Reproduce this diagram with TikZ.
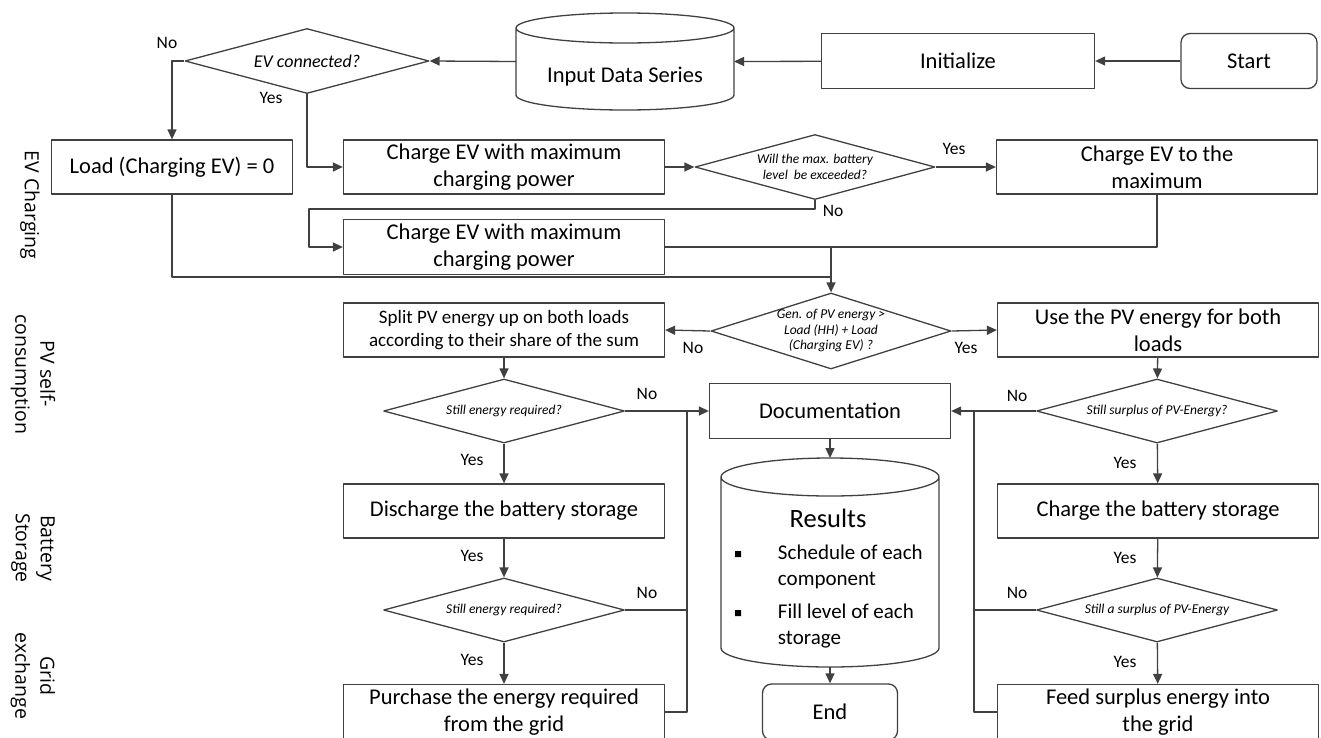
\documentclass[tikz,border=0pt]{standalone}
\usepackage{fontspec}
\setmainfont{Carlito}
\newfontfamily\sidefont{Open Sans}
\usetikzlibrary{shapes.geometric,arrows.meta}
% barrel outline round a node: name, x radius, y radius
\newcommand\drum[3]{\draw ([yshift=-#3]#1.north west) -- ([yshift=#3]#1.south west)
  arc[start angle=180,end angle=360,x radius=#2,y radius=#3] -- ([yshift=-#3]#1.north east)
  arc[start angle=0,end angle=180,x radius=#2,y radius=#3] arc[start angle=180,end angle=360,x radius=#2,y radius=#3];}
\begin{document}
\begin{tikzpicture}[x=1pt,y=-1pt,>={Triangle[length=10pt,width=9pt]},line width=1.3pt,color=black!75,line join=round,
  box/.style={draw,rectangle,text=black,minimum width=321pt,minimum height=55pt,inner sep=0pt,align=center,font=\fontsize{22.5}{27}\selectfont},
  ask/.style={draw,diamond,minimum width=241pt,minimum height=64pt,inner sep=0pt},
  qtext/.style={text=black,align=center,font=\fontsize{13.5}{16}\selectfont\itshape},
  yn/.style={text=black,font=\fontsize{17.5}{20}\selectfont},
  side/.style={text=black,rotate=-90,align=center,font=\sidefont\fontsize{19.5}{25}\selectfont},
  barrel/.style={minimum width=218pt,inner sep=0pt,outer sep=0pt}]
\useasboundingbox (0,0) rectangle (1321,737);
\clip (0,0) rectangle (1321,737);
\node[side] (lev) at (30,205) {EV Charging};
\node[side] (lpv) at (33,374) {PV self-\\consumption};
\node[side] (lbat) at (33,548) {Battery\\Storage};
\node[side] (lgrid) at (33,676) {Grid\\exchange};
\node[box,rounded corners=9pt,minimum width=136pt] (start) at (1249,61) {Start};
\node[box,minimum width=273pt] (init) at (958,61) {Initialize};
\node[barrel,minimum height=97pt,label={[text=black,yshift=-15pt,font=\fontsize{22.5}{27}\selectfont]center:Input Data Series}] (data) at (625,61.5) {};
\drum{data}{109pt}{15pt}
\node[ask,minimum width=244pt,minimum height=65pt,label={[qtext,font=\fontsize{18}{20}\selectfont\itshape]center:EV connected?}] (evq) at (307,61) {};
\node[box,minimum width=241pt,minimum height=54pt] (load) at (172,167) {Load (Charging EV) = 0};
\node[box,minimum height=54pt] (chg1) at (504,167) {Charge EV with maximum\\charging power};
\node[ask,minimum width=240pt,minimum height=65pt,label={[qtext]center:Will the max. battery\\level\ \ be exceeded?}] (batq) at (815,167) {};
\node[box,minimum height=54pt] (chgmax) at (1157,167) {Charge EV to the\\maximum};
\node[box] (chg2) at (504,247) {Charge EV with maximum\\charging power};
\node[ask,minimum width=240pt,minimum height=76pt,label={[qtext,font=\fontsize{13.5}{15.5}\selectfont\itshape]center:Gen. of PV energy >\\Load (HH) + Load\\(Charging EV) ?}] (genq) at (831,331) {};
\node[box,minimum height=54pt,font=\fontsize{19}{23}\selectfont] (split) at (504,330) {Split PV energy up on both loads\\according to their share of the sum};
\node[box,minimum height=54pt] (use) at (1158,330) {Use the PV energy for both\\loads};
\node[ask,label={[qtext]center:Still energy required?}] (eq1) at (504,411) {};
\node[box,minimum width=241pt] (doc) at (830,411) {Documentation};
\node[ask,label={[qtext]center:Still surplus of PV-Energy?}] (sq1) at (1157,411) {};
\node[box,minimum height=54pt] (dis) at (504,511) {Discharge the battery storage};
\node[box,minimum height=54pt] (chgbat) at (1158,511) {Charge the battery storage};
\node[barrel,minimum height=209pt] (res) at (830,562.5) {};
\drum{res}{109pt}{19pt}
\node[text=black,font=\fontsize{26.5}{30}\selectfont] (restitle) at (828,518) {Results};
\fill[black] (735,551) rectangle (741,557) (735,610) rectangle (741,616);
\node[text=black,anchor=west,align=left,font=\fontsize{21}{26}\selectfont] (sched) at (774,567) {Schedule of each\\component};
\node[text=black,anchor=west,align=left,font=\fontsize{21}{26}\selectfont] (fill) at (774,626) {Fill level of each\\storage};
\node[ask,label={[qtext]center:Still energy required?}] (eq2) at (504,610) {};
\node[ask,label={[qtext]center:Still a surplus of PV-Energy}] (sq2) at (1157,610) {};
\node[box] (buy) at (504,712) {Purchase the energy required\\from the grid};
\node[box,rounded corners=9pt,minimum width=135pt,minimum height=56pt] (end) at (830,712) {End};
\node[box] (feed) at (1158,712) {Feed surplus energy into\\the grid};
\coordinate (lp) at (309,209);
\coordinate (m1) at (831,247);
\coordinate (m2) at (831,277);
\coordinate (jl) at (687,411);
\coordinate (jr) at (974,411);
\draw[->] (start) -- (init);
\draw[->] (init) -- (data.east);
\draw[->] (data.west) -- (evq.east);
\draw[->] (evq.west) -| (load.north);
\draw[->] (evq.south) |- (chg1.west);
\draw[->] (chg1.east) -- (batq.west);
\draw[->] (batq.east) -- (chgmax.west);
\draw[->] (batq.south) |- (lp) |- (chg2.west);
\draw (chgmax.south) |- (m1) -- (chg2.east);
\draw (load.south) |- (m2);
\draw[->] (m1) -- (genq.north);
\draw[->] (genq.west) -- (split.east);
\draw[->] (genq.east) -- (use.west);
\draw[->] (split) -- (eq1);
\draw[->] (eq1) -- (dis);
\draw[->] (dis) -- (eq2);
\draw[->] (eq2) -- (buy);
\draw[->] (eq1.east) -- (doc.west);
\draw (eq2.east) -| (jl) (buy.east) -| (jl);
\draw[->] (use) -- (sq1);
\draw[->] (sq1) -- (chgbat);
\draw[->] (chgbat) -- (sq2);
\draw[->] (sq2) -- (feed);
\draw[->] (sq1.west) -- (doc.east);
\draw (sq2.west) -| (jr) (feed.west) -| (jr);
\draw[->] (doc) -- (res.north);
\draw[->] (res.south) -- (end);
\node[yn] (n1) at (167,43) {No};
\node[yn] (y1) at (271,98) {Yes};
\node[yn] (y2) at (954,149) {Yes};
\node[yn] (n2) at (833,211) {No};
\node[yn] (n3) at (693,348) {No};
\node[yn] (y3) at (966,348) {Yes};
\node[yn] (n4) at (647,394) {No};
\node[yn] (y4) at (472,460) {Yes};
\node[yn] (y5) at (472,556) {Yes};
\node[yn] (n5) at (647,593) {No};
\node[yn] (y6) at (472,660) {Yes};
\node[yn] (n6) at (1017,396) {No};
\node[yn] (y7) at (1125,463) {Yes};
\node[yn] (y8) at (1125,558) {Yes};
\node[yn] (n7) at (1017,593) {No};
\node[yn] (y9) at (1125,662) {Yes};
\end{tikzpicture}
\end{document}
